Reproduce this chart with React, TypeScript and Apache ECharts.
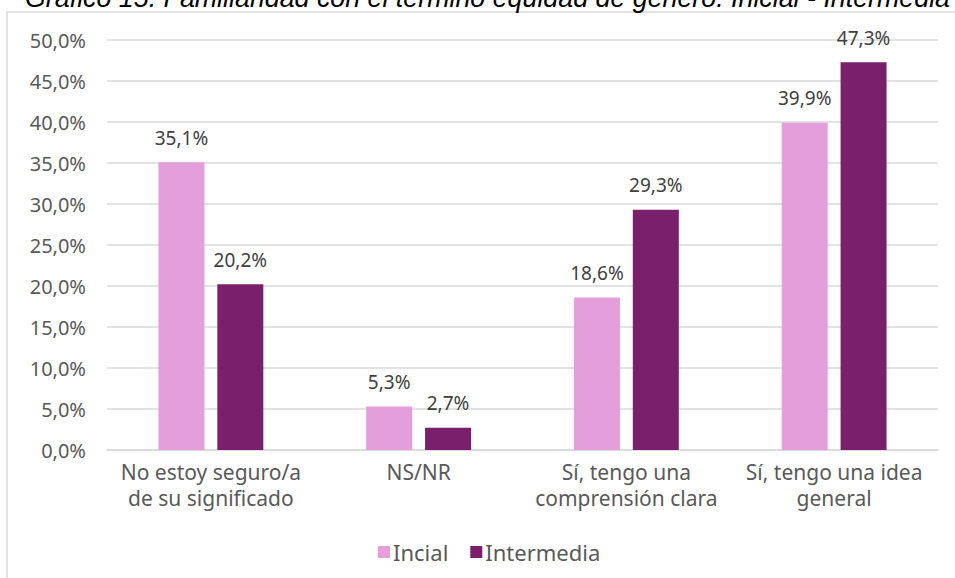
import React, { useEffect, useRef } from "react";
import * as echarts from "echarts";

const categories = [
  "No estoy seguro/a\nde su significado",
  "NS/NR",
  "Sí, tengo una\ncomprensión clara",
  "Sí, tengo una idea\ngeneral",
];
const seriesNames = ["Incial", "Intermedia"];
const inicial = [35.1, 5.3, 18.6, 39.9];
const intermedia = [20.2, 2.7, 29.3, 47.3];
const titleText =
  "Gráfico 15. Familiaridad con el término equidad de género. Inicial - Intermedia";

const FONT = "'Noto Sans', sans-serif";
const fmt = (v: number) => v.toFixed(1).replace(".", ",") + "%";

export default function App() {
  const ref = useRef<HTMLDivElement>(null);
  useEffect(() => {
    document.body.style.margin = "0";
    const chart = echarts.init(ref.current!, null, { renderer: "svg" });
    const labelStyle = {
      show: true,
      position: "top" as const,
      distance: 15,
      color: "#404040",
      fontSize: 19,
      fontFamily: FONT,
      formatter: (p: any) => fmt(p.value),
    };
    chart.setOption({
      animation: false,
      backgroundColor: "#ffffff",
      textStyle: { fontFamily: FONT },
      graphic: [
        {
          type: "rect",
          shape: { x: 7, y: 12, width: 990, height: 620 },
          style: { fill: "none", stroke: "#d9d9d9", lineWidth: 1.5 },
          silent: true,
        },
        {
          type: "text",
          x: 950,
          y: 11,
          style: {
            text: titleText,
            align: "right",
            verticalAlign: "bottom",
            fontSize: 26.8,
            fontStyle: "italic",
            fontFamily: "'Liberation Sans', Arial, sans-serif",
            fill: "#000000",
          },
        },
      ],
      legend: {
        data: seriesNames,
        left: 373,
        top: 536,
        itemWidth: 12,
        itemHeight: 12,
        itemGap: 22,
        icon: "rect",
        textStyle: { fontSize: 22, color: "#595959", fontFamily: FONT, padding: [0, 0, 0, -2] },
      },
      grid: { left: 107, right: 17, top: 40, bottom: 128, containLabel: false },
      xAxis: {
        type: "category",
        data: categories,
        axisLine: { lineStyle: { color: "#d9d9d9", width: 1.5 } },
        axisTick: { show: false },
        axisLabel: {
          color: "#595959",
          fontSize: 21,
          fontFamily: FONT,
          lineHeight: 26,
          margin: 9,
          interval: 0,
        },
      },
      yAxis: {
        type: "value",
        min: 0,
        max: 50,
        interval: 5,
        axisLine: { show: false },
        axisTick: { show: false },
        splitLine: { lineStyle: { color: "#d9d9d9", width: 1.5 } },
        axisLabel: {
          color: "#595959",
          fontSize: 20,
          fontFamily: FONT,
          margin: 21,
          formatter: (v: number) => fmt(v),
        },
      },
      series: [
        {
          name: seriesNames[0],
          type: "bar",
          data: inicial,
          barWidth: 46,
          barGap: "28%",
          itemStyle: { color: "#E59EDC" },
          label: labelStyle,
        },
        {
          name: seriesNames[1],
          type: "bar",
          data: intermedia,
          barWidth: 46,
          barGap: "28%",
          itemStyle: { color: "#7A1F6B" },
          label: labelStyle,
        },
      ],
    });
    return () => chart.dispose();
  }, []);
  return <div ref={ref} style={{ width: 955, height: 578 }} />;
}
